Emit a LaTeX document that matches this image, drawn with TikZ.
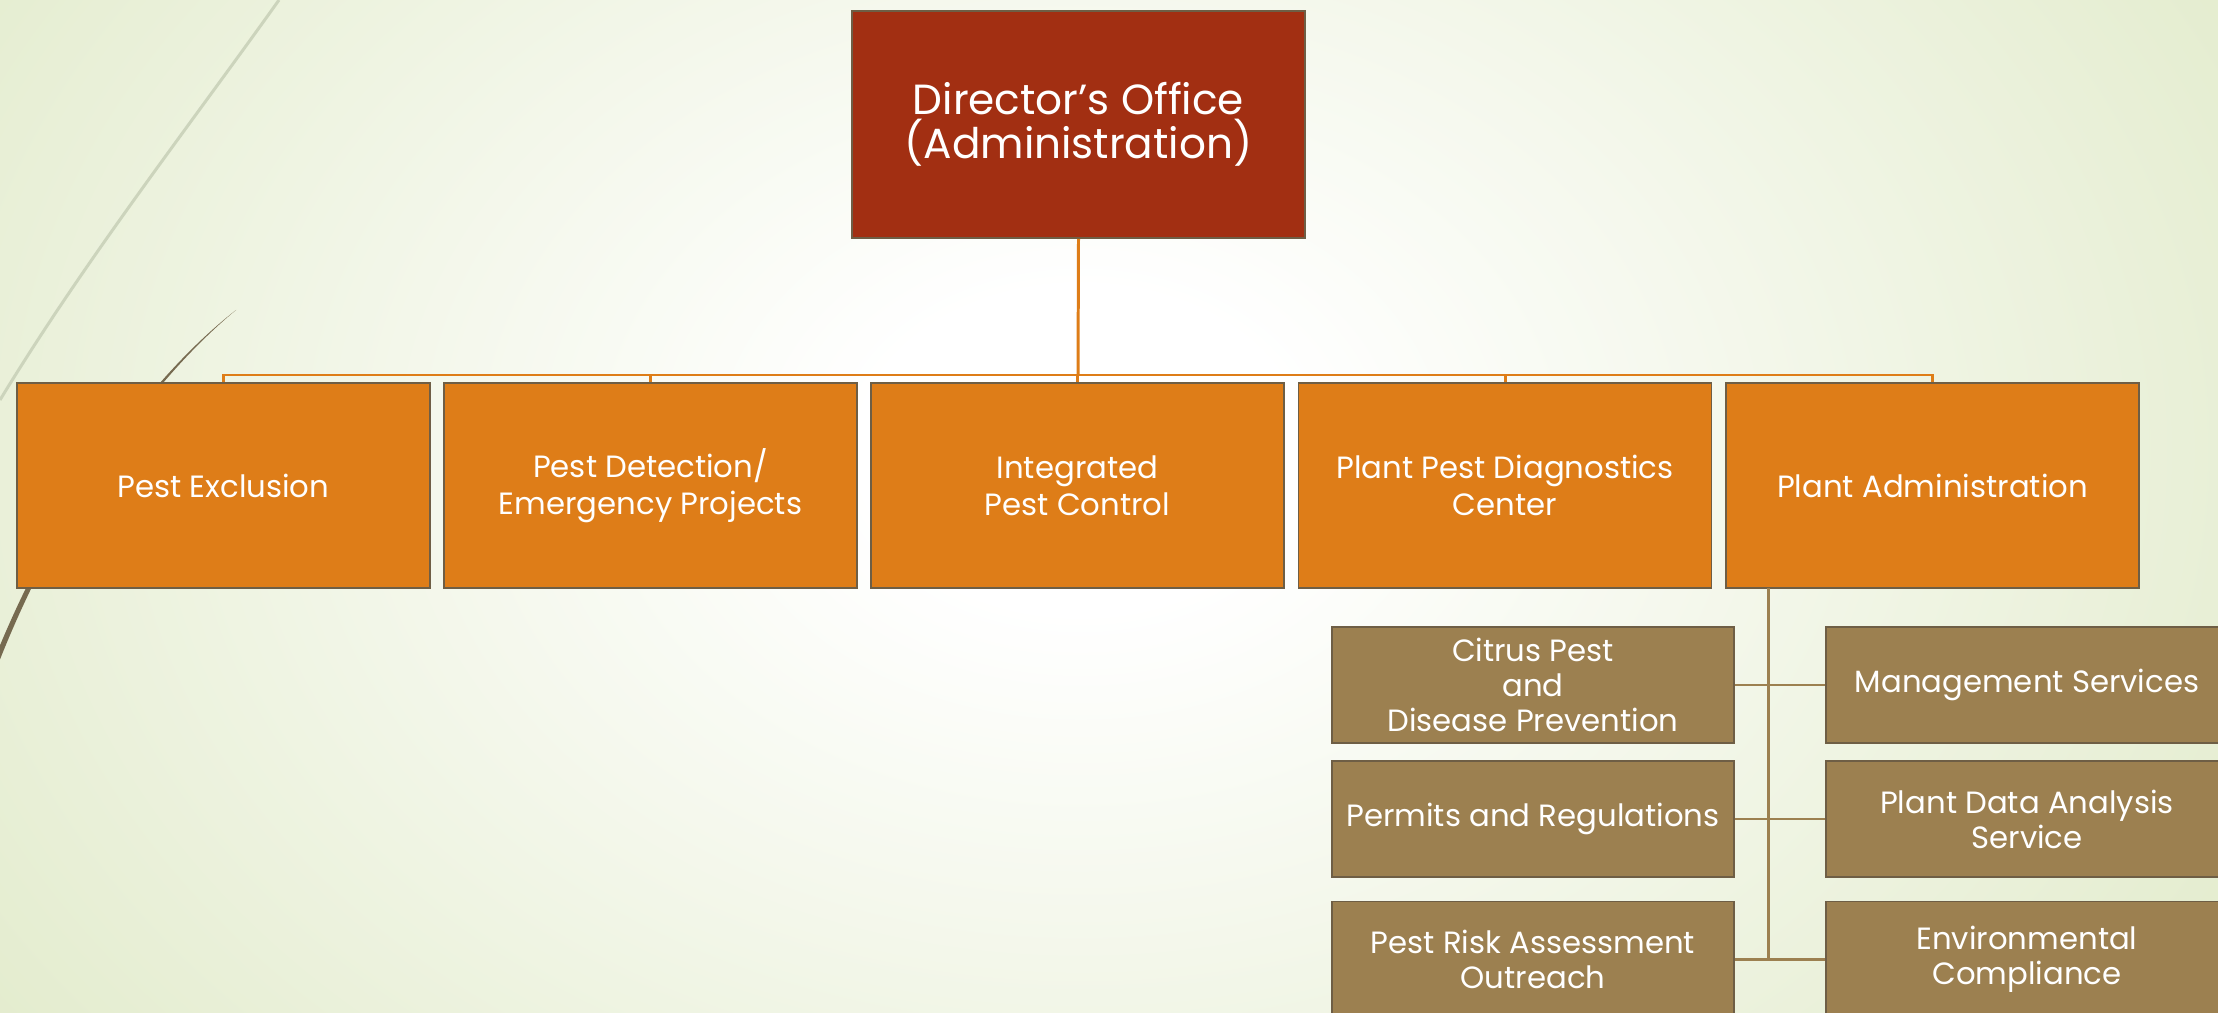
\documentclass[tikz,border=0pt]{standalone}
\usepackage{fontspec}
\setmainfont{Poppins}

\definecolor{bgc}{HTML}{DFE9C6}
\definecolor{dirred}{HTML}{A22F12}
\definecolor{divorange}{HTML}{DE7D18}
\definecolor{unittan}{HTML}{9C8050}
\definecolor{edgedark}{HTML}{6E5E45}
\definecolor{wispline}{HTML}{CCD4BC}
\definecolor{wispdark}{HTML}{766A50}

\pgfdeclareradialshading{bgglow}{\pgfpoint{0bp}{0bp}}{color(0bp)=(white); color(4bp)=(white); color(28bp)=(bgc); color(50bp)=(bgc)}

\tikzset{
	box/.style={draw=edgedark, line width=1pt, text=white, align=center, inner sep=0pt},
	dirbox/.style={box, fill=dirred, minimum width=9.06cm, minimum height=4.54cm, font=\fontsize{24}{25}\selectfont},
	divbox/.style={box, fill=divorange, minimum width=8.26cm, minimum height=4.1cm, font=\fontsize{17.5}{21}\selectfont},
	unitbox/.style={box, fill=unittan, minimum width=8.04cm, minimum height=2.32cm, font=\fontsize{17.5}{19.9}\selectfont},
	divline/.style={draw=divorange, line width=1.7pt},
	unitline/.style={draw=unittan, line width=1.7pt},
}

\begin{document}
\begin{tikzpicture}[x=0.02cm, y=-0.02cm]
	\useasboundingbox (0,0) rectangle (2218,1013);
	\clip (0,0) rectangle (2218,1013);
	% background
	\fill[bgc] (0,0) rectangle (2218,1013);
	\shade[shading=bgglow] (1080,450) ellipse (1350 and 1000);
	% wisp lines
	\draw[wispline, line width=1.7pt] (279,0) .. controls (190,125) and (85,260) .. (0,400);
	\fill[wispdark] (236,310) .. controls (140,385) and (50,520) .. (-6,660)
		-- (-1,662) .. controls (54,522) and (143,387) .. (236,310) -- cycle;

	% director
	\node[dirbox] (dir) at (1078.5,124.5) {Director’s Office\\(Administration)};

	% divisions
	\node[divbox] (pe) at (223.5,485.5) {Pest Exclusion};
	\node[divbox] (pd) at (650.5,485.5) {Pest Detection/\\Emergency Projects};
	\node[divbox] (ipc) at (1077.5,485.5) {Integrated\\Pest Control};
	\node[divbox] (ppdc) at (1505,485.5) {Plant Pest Diagnostics\\Center};
	\node[divbox] (pa) at (1932.5,485.5) {Plant Administration};

	% plant administration units
	\node[unitbox] (cpdp) at (1533,685) {Citrus Pest\\and\\Disease Prevention};
	\node[unitbox] (pr) at (1533,819) {Permits and Regulations};
	\node[unitbox] (pra) at (1533,959.5) {Pest Risk Assessment\\Outreach};
	\node[unitbox] (ms) at (2027,685) {Management Services};
	\node[unitbox] (pdas) at (2027,819) {Plant Data Analysis\\Service};
	\node[unitbox] (ec) at (2027,959.5) {Environmental\\Compliance};

	% connectors
	\coordinate (bus) at (1078,375);
	\draw[divline] (dir.south) -- (bus);
	\foreach \n in {pe,pd,ipc,ppdc,pa}
		\draw[divline] (bus) -| (\n.north);

	\coordinate (trunktop) at (1768,588);
	\coordinate (trunkend) at (1768,961);
	\draw[unitline] (trunktop) -- (trunkend);
	\draw[unitline] (cpdp.east) -- (ms.west);
	\draw[unitline] (pr.east) -- (pdas.west);
	\draw[unitline] (pra.east) -- (ec.west);
\end{tikzpicture}
\end{document}
